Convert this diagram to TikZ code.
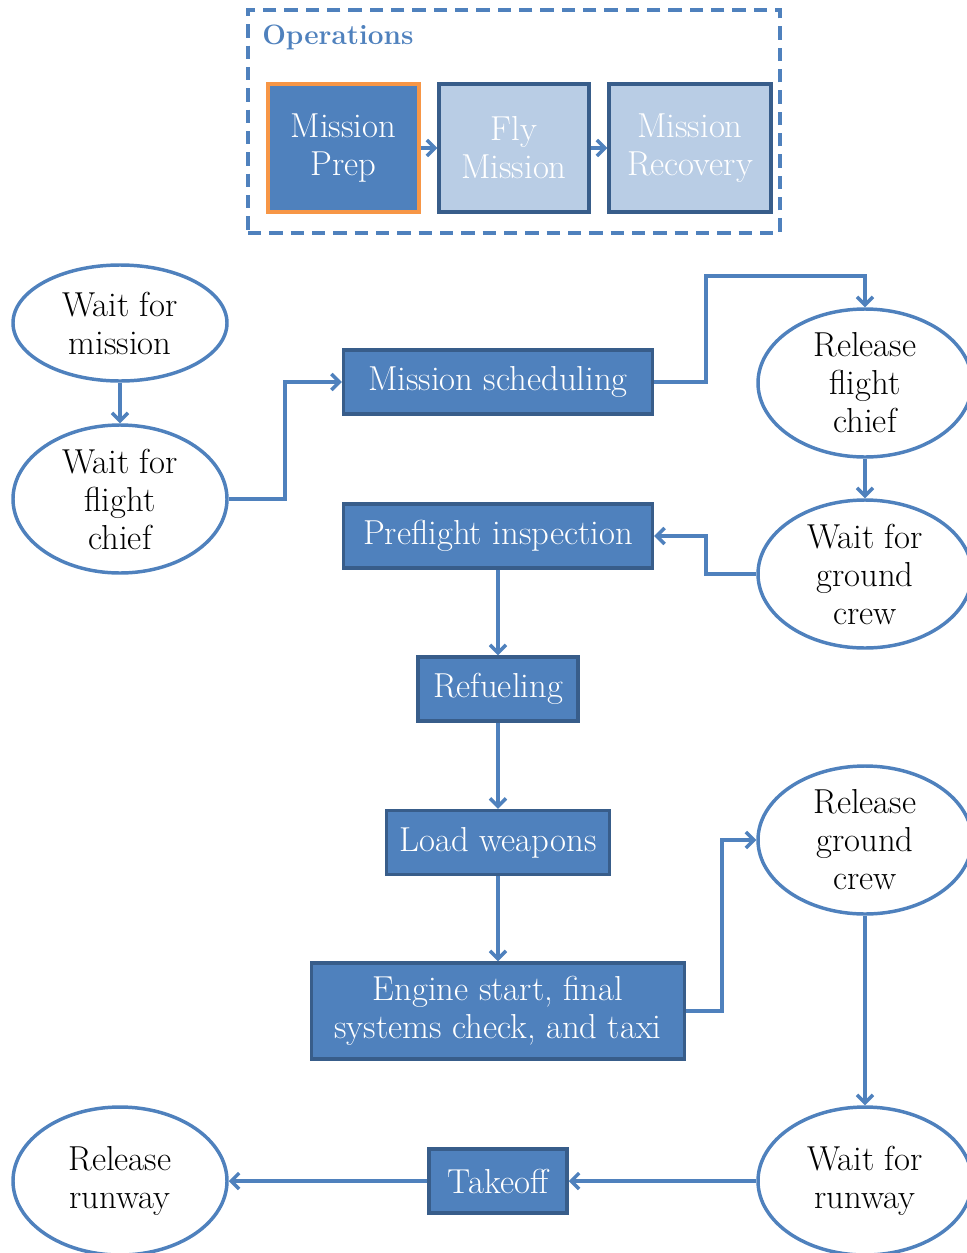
\documentclass[tikz,border=0pt]{standalone}
\usetikzlibrary{arrows.meta,shapes.geometric}
\definecolor{accent}{HTML}{4F81BD}
\definecolor{edge}{HTML}{385D8A}
\definecolor{pale}{HTML}{B9CDE5}
\definecolor{prepline}{HTML}{F79646}
\begin{document}
\begin{tikzpicture}[x=0.75pt,y=-0.75pt,
  txt/.style={font=\fontsize{26}{28.5}\selectfont},
  task/.style={draw=edge, fill=accent, line width=2.6pt, text=white, txt,
    inner sep=0pt, align=center},
  phase/.style={draw=edge, fill=pale, line width=2.6pt, text=white, txt,
    inner sep=0pt, align=center, minimum height=96pt},
  state/.style={draw=accent, ellipse, line width=2.6pt, minimum width=160.5pt,
    minimum height=111pt, inner sep=0pt},
  inside/.style={txt, align=center, text=black},
  flow/.style={draw=accent, line width=2.6pt,
    -{Straight Barb[length=6pt,width=12pt]}},
]
\useasboundingbox (0,0) rectangle (967,1253);
\clip (0,0) rectangle (967,1253);

% Operations overview
\node[draw=accent, line width=2.6pt, dash pattern=on 10pt off 6pt,
  minimum width=399pt, minimum height=167.25pt, inner sep=0pt] (ops) at (514,121.5) {};
\node[anchor=west, text=accent, inner sep=0pt,
  font=\bfseries\fontsize{21}{24}\selectfont] (opslabel) at (262,37) {Operations};
\node[phase, fill=accent, draw=prepline, minimum width=113.25pt] (prep) at (343.5,148) {Mission\\Prep};
\node[phase, minimum width=112.5pt] (fly) at (514,148) {Fly\\Mission};
\node[phase, minimum width=121.5pt] (recov) at (690,148) {Mission\\Recovery};
\draw[flow] (prep) -- (fly);
\draw[flow] (fly) -- (recov);

% States
\node[state, minimum height=87pt, label={[inside]center:{Wait for\\mission}}] (wfm) at (120,323) {};
\node[state, label={[inside]center:{Wait for\\flight\\chief}}] (wfc) at (120,499) {};
\node[state, label={[inside]center:{Release\\flight\\chief}}] (rfc) at (865,383) {};
\node[state, label={[inside]center:{Wait for\\ground\\crew}}] (wgc) at (865,574) {};
\node[state, label={[inside]center:{Release\\ground\\crew}}] (rgc) at (865,840) {};
\node[state, label={[inside]center:{Wait for\\runway}}] (wfr) at (865,1181) {};
\node[state, label={[inside]center:{Release\\runway}}] (rr) at (120,1181) {};

% Tasks
\node[task, minimum width=231.75pt, minimum height=48pt] (sched) at (498,382) {Mission scheduling};
\node[task, minimum width=231.75pt, minimum height=48pt] (pre) at (498,536) {Preflight inspection};
\node[task, minimum width=120pt, minimum height=48pt] (fuel) at (498,689) {Refueling};
\node[task, minimum width=167.25pt, minimum height=48pt] (load) at (498,842.5) {Load weapons};
\node[task, minimum width=279.75pt, minimum height=72pt] (eng) at (498,1011) {Engine start, final\\systems check, and taxi};
\node[task, minimum width=103.5pt, minimum height=48pt] (take) at (498,1181) {Takeoff};

% Connectors
\draw[flow] (wfm) -- (wfc);
\draw[flow] (wfc.east) -| (285,382) -- (sched.west);
\draw[flow] (sched.east) -| (706,276) -| (rfc.north);
\draw[flow] (rfc) -- (wgc);
\draw[flow] (wgc.west) -| (706,536) -- (pre.east);
\draw[flow] (pre) -- (fuel);
\draw[flow] (fuel) -- (load);
\draw[flow] (load) -- (eng);
\draw[flow] (eng.east) -| (722,840) -- (rgc.west);
\draw[flow] (rgc) -- (wfr);
\draw[flow] (wfr) -- (take);
\draw[flow] (take) -- (rr);
\end{tikzpicture}
\end{document}
